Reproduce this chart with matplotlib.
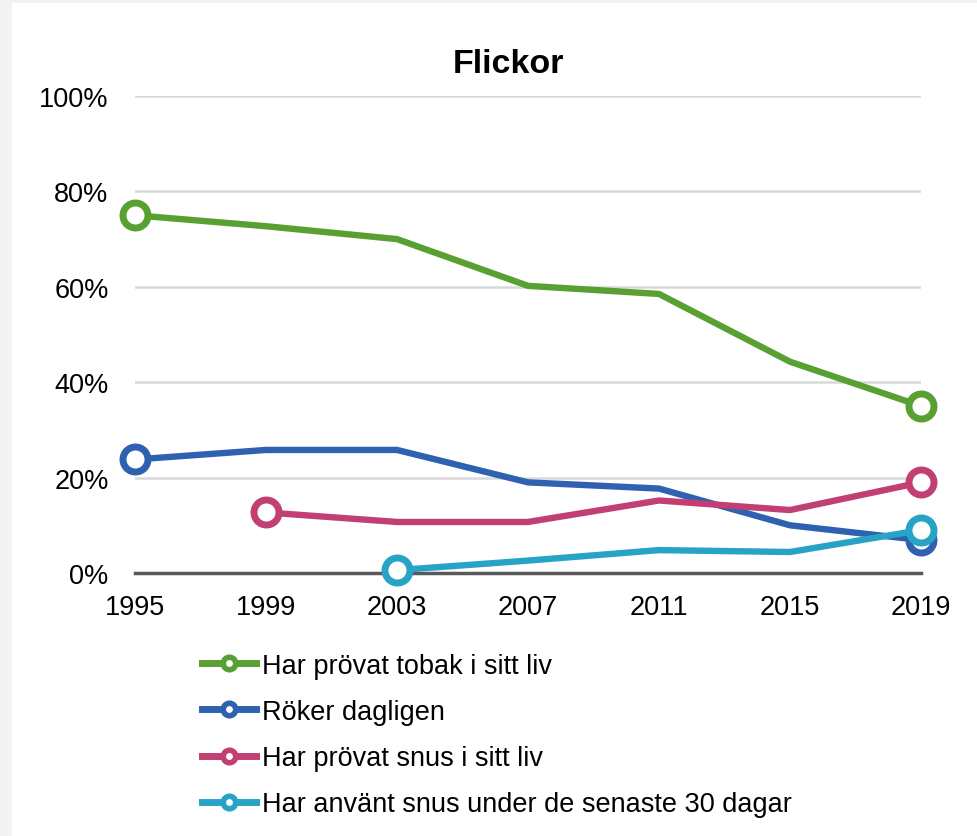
import matplotlib.pyplot as plt
from matplotlib.lines import Line2D
from matplotlib.patches import Rectangle

plt.rcParams['font.family'] = ['Liberation Sans', 'DejaVu Sans']

years = [1995, 1999, 2003, 2007, 2011, 2015, 2019]
tobak = [75, 72.7, 70, 60.2, 58.5, 44.3, 35]
roker = [23.8, 25.8, 25.8, 19, 17.7, 10, 6.9]
snus_years = [1999, 2003, 2007, 2011, 2015, 2019]
snus = [12.7, 10.7, 10.7, 15.2, 13.2, 19]
snus30_years = [2003, 2007, 2011, 2015, 2019]
snus30 = [0.6, 2.6, 4.8, 4.4, 9]

labels = ['Har prövat tobak i sitt liv', 'Röker dagligen',
          'Har prövat snus i sitt liv', 'Har använt snus under de senaste 30 dagar']
colors = ['#58a032', '#2e62b0', '#c23f74', '#27a3c5']

fig = plt.figure(figsize=(9.78, 8.37), dpi=100)
fig.patch.set_facecolor('#f3f3f3')
fig.patches.append(Rectangle((12 / 978, 0), 1, 1 - 4 / 837, transform=fig.transFigure,
                             facecolor='white', edgecolor='none', zorder=-5))

ax = fig.add_axes([135 / 978, 1 - 574 / 837, (921 - 135) / 978, (574 - 97) / 837])
ax.set_facecolor('none')
ax.set_zorder(2)

series = [(years, tobak), (years, roker), (snus_years, snus), (snus30_years, snus30)]
for (x, y), c in zip(series, colors):
    ax.plot(x, y, color=c, lw=4.6, solid_capstyle='round', clip_on=False, zorder=3)
    ax.plot([x[0], x[-1]], [y[0], y[-1]], 'o', ms=18, mew=5, mfc='white', mec=c,
            clip_on=False, zorder=4)

ax.set_xlim(1995, 2019)
ax.set_ylim(0, 100)
ax.set_xticks(years)
ax.set_yticks(range(0, 101, 20))
ax.set_yticklabels([f'{v}%' for v in range(0, 101, 20)])
ax.tick_params(length=0, labelsize=19.5, colors='black')
ax.tick_params(axis='x', pad=15)
ax.tick_params(axis='y', pad=19)
ax.grid(axis='y', color='#d9d9d9', lw=1.8, zorder=0)
for s in ['top', 'right', 'left']:
    ax.spines[s].set_visible(False)
ax.spines['bottom'].set_color('#595959')
ax.spines['bottom'].set_linewidth(2.5)
ax.set_title('Flickor', fontsize=24.5, fontweight='bold', pad=17, x=0.475)

handles = [Line2D([], [], color=c, lw=5, marker='o', ms=9, mew=4, mfc='white', mec=c)
           for c in colors]
fig.legend(handles, labels, loc='upper left', bbox_to_anchor=(188 / 978, 1 - 640 / 837),
           frameon=False, fontsize=19.5, handlelength=2.0, handletextpad=0.25,
           labelspacing=0.75, borderpad=0)

fig.savefig('out.png', dpi=100, facecolor=fig.get_facecolor())
